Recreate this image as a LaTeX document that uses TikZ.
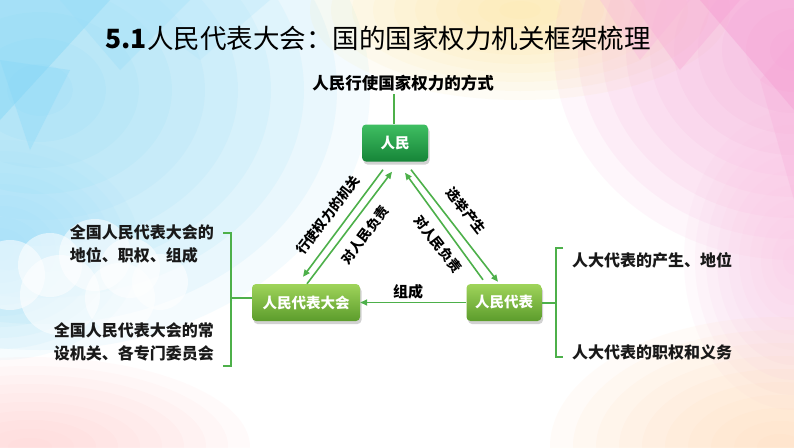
\documentclass[tikz,border=0pt]{standalone}
\usepackage{fontspec}
\setmainfont{Noto Sans CJK SC}
\usetikzlibrary{arrows.meta,shadows,calc}
\definecolor{lgreen}{HTML}{4DB04A}
\definecolor{boxdarkT}{HTML}{3FBE62}
\definecolor{boxdarkB}{HTML}{168538}
\definecolor{boxlightT}{HTML}{9FD45A}
\definecolor{boxlightB}{HTML}{5C9C2C}
\newcommand\softblob[5]{%
  \foreach \k in {1,...,10}{%
    \fill[#1, fill opacity=0.085] (#2,#3) ellipse [x radius={#4*\k/10}, y radius={#5*\k/10}];
  }}
\tikzset{
  box/.style={rounded corners=4pt, minimum height=37pt, text=white,
    font=\fontsize{14.5}{16}\selectfont\bfseries, inner sep=0pt,
    drop shadow={shadow xshift=1.5pt, shadow yshift=-3pt, opacity=0.35}},
  darkbox/.style={box, top color=boxdarkT, bottom color=boxdarkB},
  lightbox/.style={box, top color=boxlightT, bottom color=boxlightB},
  conn/.style={draw=lgreen, line width=1.6pt},
  arr/.style={conn, -{Triangle[length=7pt,width=6pt]}},
  lbl/.style={font=\fontsize{13.5}{15}\selectfont\bfseries, text=black, inner sep=0pt},
  side/.style={font=\fontsize{16}{23}\selectfont\bfseries, align=left, inner sep=0pt, text=black!90},
  bracket/.style={draw=lgreen, line width=1.5pt}
}
\begin{document}
\begin{tikzpicture}[x=1pt,y=-1pt]
\useasboundingbox (0,0) rectangle (794,447);
% ---------- background ----------
\fill[white] (0,0) rectangle (794,447);
\begin{scope}
\clip (0,0) rectangle (794,447);
\softblob{cyan!50!white}{40}{90}{330}{260}
\softblob{cyan!40!white}{0}{250}{140}{110}
\softblob{yellow!55!orange!40!white}{520}{10}{210}{90}
\softblob{magenta!40!white}{794}{50}{240}{210}
\softblob{magenta!25!white}{794}{260}{110}{150}
\softblob{orange!30!white}{780}{447}{230}{130}
\softblob{red!20!white}{30}{447}{220}{90}
% low-poly facets
\fill[cyan!55!white, fill opacity=0.35] (0,0) -- (110,0) -- (0,120) -- cycle;
\fill[cyan!40!white, fill opacity=0.35] (60,0) -- (190,0) -- (120,70) -- cycle;
\fill[cyan!30!white, fill opacity=0.3] (120,0) -- (270,0) -- (200,60) -- cycle;
\fill[cyan!50!white, fill opacity=0.3] (0,60) -- (70,70) -- (30,150) -- cycle;
\fill[magenta!35!white, fill opacity=0.35] (630,0) -- (740,0) -- (680,70) -- cycle;
\fill[magenta!45!white, fill opacity=0.3] (700,0) -- (794,0) -- (794,110) -- cycle;
\fill[magenta!30!white, fill opacity=0.3] (600,0) -- (690,0) -- (640,60) -- cycle;
\fill[magenta!35!white, fill opacity=0.25] (760,80) -- (794,40) -- (794,200) -- cycle;
% cloud
\foreach \cx/\cy/\r in {10/275/35, 50/265/32, 95/255/36, 130/268/30, 160/282/28, 60/295/40, 120/298/35}
  \fill[white, fill opacity=0.55] (\cx,\cy) circle [radius=\r];
\end{scope}
% ---------- title ----------
\node (title) at (378,38) {\fontsize{26.5}{30}\selectfont{\bfseries 5.1}人民代表大会：国的国家权力机关框架梳理};
\node[font=\fontsize{16.5}{18}\selectfont\bfseries, inner sep=3pt] (sub) at (403,83) {人民行使国家权力的方式};
% ---------- boxes ----------
\node[darkbox, minimum width=66pt] (rm) at (395,143) {人民};
\node[lightbox, minimum width=108pt] (dh) at (306,302.5) {人民代表大会};
\node[lightbox, minimum width=75pt] (db) at (504,302.5) {人民代表};
% ---------- connectors ----------
\draw[conn] ([xshift=-1pt]rm.north) -- ([xshift=-1pt]rm.north |- sub.south);
\draw[arr] ([xshift=-12pt,yshift=-8pt]rm.south) -- ([xshift=-3pt,yshift=7pt]dh.north);
\draw[arr] ([xshift=1pt]dh.north) -- ([xshift=-3pt,yshift=-10pt]rm.south);
\draw[arr] ([xshift=16pt,yshift=-8pt]rm.south) -- ([xshift=-6pt,yshift=2pt]db.north);
\draw[arr] ([xshift=-21pt,yshift=4pt]db.north) -- ([xshift=10pt,yshift=-11pt]rm.south);
\draw[arr] (db.west) -- (dh.east);
% ---------- labels ----------
\node[lbl, rotate=53] (l1) at (328,215) {行使权力的机关};
\node[lbl, rotate=53] (l2) at (365,235) {对人民负责};
\node[lbl, rotate=-52] (l3) at (466,211) {选举产生};
\node[lbl, rotate=-52] (l4) at (438,244) {对人民负责};
\node[lbl, font=\fontsize{15}{16}\selectfont\bfseries] (l5) at (408,292) {组成};
% ---------- left bracket ----------
\coordinate (lbt) at (231,233);
\coordinate (lbb) at (231,366);
\coordinate (lbm) at (231,298);
\draw[bracket] ([xshift=-8pt]lbt) -- (lbt) -- (lbb) -- ([xshift=-8pt]lbb);
\draw[bracket] (lbm) -- (lbm -| dh.west);
\node[side, anchor=east] (t1) at (214,244) {全国人民代表大会的\\地位、职权、组成};
\node[side, anchor=east] (t2) at (214,342) {全国人民代表大会的常\\设机关、各专门委员会};
% ---------- right bracket ----------
\coordinate (rbt) at (556,248);
\coordinate (rbb) at (556,357);
\coordinate (rbm) at (556,303);
\draw[bracket] ([xshift=7pt]rbt) -- (rbt) -- (rbb) -- ([xshift=7pt]rbb);
\draw[bracket] (rbm) -- (rbm -| db.east);
\node[side, anchor=west] (t3) at (572,260) {人大代表的产生、地位};
\node[side, anchor=west] (t4) at (572,352) {人大代表的职权和义务};
\end{tikzpicture}
\end{document}
